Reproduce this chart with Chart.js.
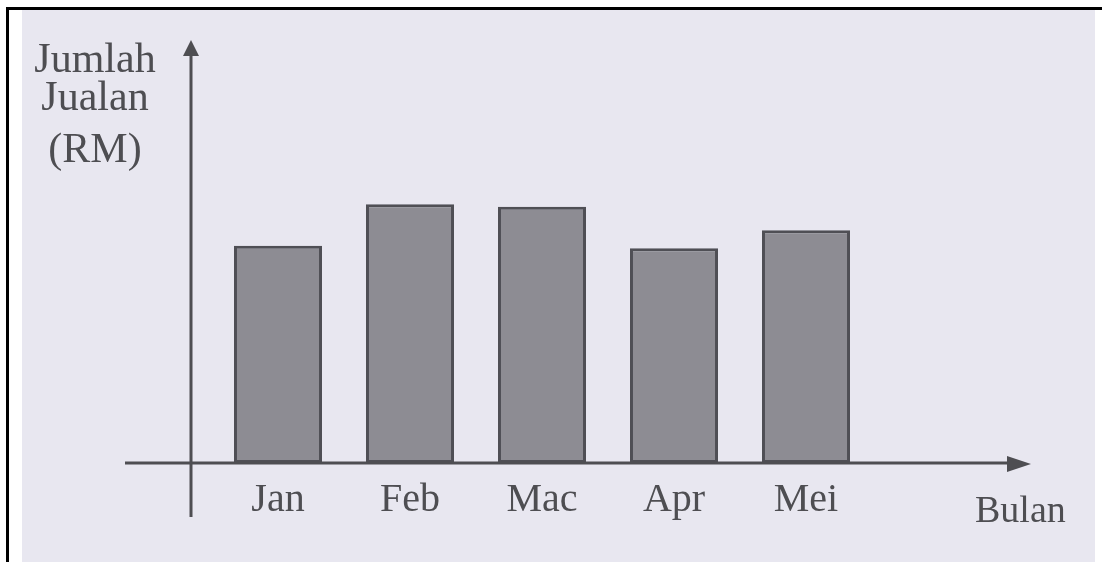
<!DOCTYPE html>
<html lang="ms">
<head>
<meta charset="UTF-8">
<title>Jumlah Jualan mengikut Bulan</title>
<style>
    html, body {
        margin: 0;
        padding: 0;
        background: #ffffff;
    }
    #chartBox {
        position: absolute;
        left: 0;
        top: 0;
        width: 1102px;
        height: 562px;
    }
</style>
<script src="https://cdn.jsdelivr.net/npm/chart.js"></script>
</head>
<body>
<div id="chartBox"><canvas id="salesChart"></canvas></div>
<script>
    // Data (no scale printed, units are relative)
    const months = ['Jan', 'Feb', 'Mac', 'Apr', 'Mei'];
    const sales = [84, 100, 99, 83, 90];
    const yTitle = ['Jumlah', 'Jualan', '(RM)'];
    const xTitle = 'Bulan';

    const paper = '#e8e7f0';
    const ink = '#4e4e52';

    // Paper background, page frame, arrow axes and axis titles
    const scanPlugin = {
        id: 'scan',
        beforeDraw(chart) {
            const ctx = chart.ctx;
            const w = chart.width, h = chart.height;
            ctx.save();
            ctx.fillStyle = '#ffffff';
            ctx.fillRect(0, 0, w, h);
            ctx.fillStyle = paper;
            ctx.fillRect(22, 10, w - 29, h - 10);
            ctx.fillStyle = '#000000';
            ctx.fillRect(6, 7, w - 6, 3);
            ctx.fillRect(6, 7, 3, h - 7);
            ctx.restore();
        },
        afterDatasetsDraw(chart) {
            const ctx = chart.ctx;
            const area = chart.chartArea;
            const y0 = chart.scales.y.getPixelForValue(0);
            const axisX = area.left - 21;
            ctx.save();
            ctx.strokeStyle = ink;
            ctx.fillStyle = ink;
            ctx.lineWidth = 3;

            // vertical axis
            ctx.beginPath();
            ctx.moveTo(axisX, area.bottom + 54);
            ctx.lineTo(axisX, area.top + 2);
            ctx.stroke();
            ctx.beginPath();
            ctx.moveTo(axisX, area.top - 9);
            ctx.lineTo(axisX - 8, area.top + 7);
            ctx.lineTo(axisX + 8, area.top + 7);
            ctx.closePath();
            ctx.fill();

            // horizontal axis
            ctx.beginPath();
            ctx.moveTo(area.left - 87, y0);
            ctx.lineTo(area.right + 140, y0);
            ctx.stroke();
            ctx.beginPath();
            ctx.moveTo(area.right + 159, y0 + 1);
            ctx.lineTo(area.right + 135, y0 - 7);
            ctx.lineTo(area.right + 135, y0 + 9);
            ctx.closePath();
            ctx.fill();

            // titles
            ctx.font = '42px "Liberation Serif", "Times New Roman", serif';
            ctx.textAlign = 'center';
            ctx.textBaseline = 'alphabetic';
            const baselines = [72, 110, 162];
            yTitle.forEach((t, i) => ctx.fillText(t, 95, baselines[i]));

            ctx.font = '38px "Liberation Serif", "Times New Roman", serif';
            ctx.textAlign = 'left';
            ctx.fillText(xTitle, area.right + 103, y0 + 59);
            ctx.restore();
        }
    };

    new Chart(document.getElementById('salesChart'), {
        type: 'bar',
        data: {
            labels: months,
            datasets: [{
                data: sales,
                backgroundColor: '#8d8c93',
                borderColor: '#4f4f55',
                borderWidth: 3,
                borderSkipped: false,
                categoryPercentage: 1.0,
                barPercentage: 0.667
            }]
        },
        options: {
            responsive: true,
            maintainAspectRatio: false,
            animation: false,
            events: [],
            layout: {
                padding: { left: 212, right: 230, top: 49, bottom: 0 }
            },
            plugins: {
                legend: { display: false },
                tooltip: { enabled: false }
            },
            scales: {
                x: {
                    grid: { display: false, drawTicks: false },
                    border: { display: false },
                    ticks: {
                        color: ink,
                        padding: 13,
                        font: { family: '"Liberation Serif", "Times New Roman", serif', size: 40 }
                    },
                    afterFit(scale) { scale.height = 99; }
                },
                y: {
                    display: false,
                    min: 0,
                    max: 160
                }
            }
        },
        plugins: [scanPlugin]
    });
</script>
</body>
</html>
